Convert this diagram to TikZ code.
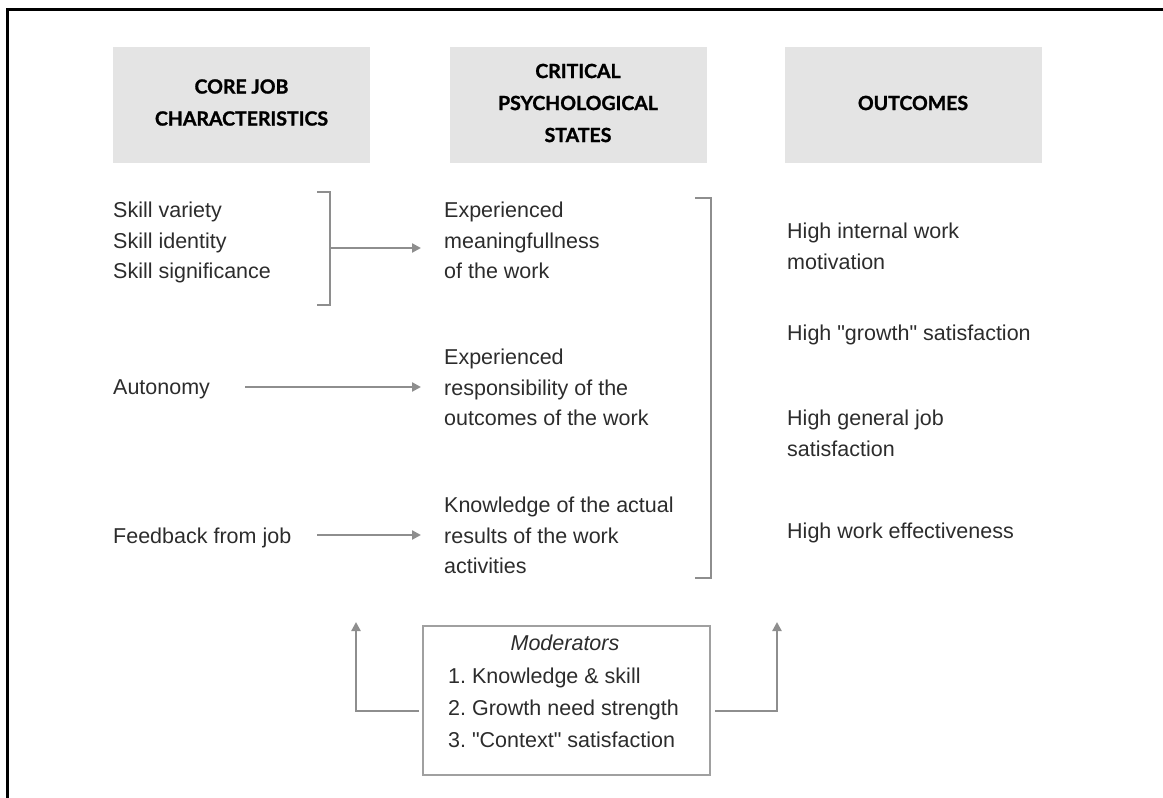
\documentclass[tikz,border=0pt]{standalone}
\usepackage{fontspec}
\setmainfont{Liberation Sans}[Ligatures=TeXOff]
\newfontfamily\headfont{Lato}[BoldFeatures={FakeBold=1.3}]
\usetikzlibrary{arrows.meta}
\definecolor{txt}{HTML}{2C2C2C}
\definecolor{conngray}{HTML}{8E8E8E}
\definecolor{boxgray}{HTML}{A0A0A0}
\definecolor{headfill}{HTML}{E4E4E4}
\frenchspacing
\begin{document}
\begin{tikzpicture}[x=1pt,y=-1pt,
  body/.style={inner sep=0pt, anchor=north west, align=left, text=txt,
    font=\fontsize{21.5}{30.5}\selectfont},
  modtext/.style={inner sep=0pt, anchor=north west, align=left, text=txt,
    font=\fontsize{21.5}{32}\selectfont},
  headbox/.style={fill=headfill, minimum width=257pt, minimum height=116pt, inner sep=0pt},
  headtext/.style={inner sep=0pt, text=black, align=center,
    font=\headfont\bfseries\fontsize{19.5}{32}\selectfont},
  conn/.style={draw=conngray, line width=2.4pt},
  arr/.style={conn, -{Triangle[length=9pt,width=9pt]}},
]
\useasboundingbox (0,0) rectangle (1163,798);

% outer frame
\draw[line width=2.6pt, black] (7.5,798) -- (7.5,9.5) -- (1163,9.5);

% column headers
\node[headbox] (h1) at (241.5,105) {};
\node[headbox] (h2) at (578,104.5) {};
\node[headbox] (h3) at (913,105) {};
\node[headtext] (h1t) at (241.5,102.5) {CORE JOB\\CHARACTERISTICS};
\node[headtext] (h2t) at (578,103) {CRITICAL\\PSYCHOLOGICAL\\STATES};
\node[headtext] (h3t) at (913,103) {OUTCOMES};

% core job characteristics
\node[body] (skills) at (113,202) {Skill variety\\Skill identity\\Skill significance};
\node[body] (auto) at (113,379.5) {Autonomy};
\node[body] (feed) at (113,527.5) {Feedback from job};

% critical psychological states
\node[body] (mean) at (444,202) {Experienced\\meaningfullness\\of the work};
\node[body] (resp) at (444,349) {Experienced\\responsibility of the\\outcomes of the work};
\node[body] (know) at (444,497) {Knowledge of the actual\\results of the work\\activities};

% outcomes
\node[body] (motiv) at (787,223) {High internal work\\motivation};
\node[body] (growth) at (787,325) {High "growth" satisfaction};
\node[body] (gensat) at (787,410) {High general job\\satisfaction};
\node[body] (effect) at (787,523) {High work effectiveness};

% bracket grouping the three skill items
\draw[conn] (317,192) -- (330,192) -- (330,305) -- (317,305);
\coordinate (br1) at (330,248);
\draw[arr, shorten >=23pt] (br1) -- (br1 -| mean.west);

% single arrows
\coordinate (a2) at (245,387);
\draw[arr, shorten >=23pt] (a2) -- (a2 -| resp.west);
\coordinate (a3) at (317,535);
\draw[arr, shorten >=23pt] (a3) -- (a3 -| know.west);

% bracket grouping the psychological states
\draw[conn] (695,198) -- (711,198) -- (711,578) -- (695,578);

% moderators box
\node[draw=boxgray, line width=2pt, minimum width=287pt, minimum height=149pt, inner sep=0pt] (mod) at (566.5,700.5) {};
\node[inner sep=0pt, anchor=north, text=txt, font=\fontsize{21.5}{32}\selectfont\itshape] (modt) at (565,635) {Moderators};
\node[modtext] (modl) at (448,668) {1. Knowledge \& skill\\2. Growth need strength\\3. "Context" satisfaction};

% moderator feedback arrows
\coordinate (ml) at (419,711);
\coordinate (mlt) at (356,622);
\draw[arr] (ml) -| (mlt);
\coordinate (mr) at (715,711);
\coordinate (mrt) at (777,622);
\draw[arr] (mr) -| (mrt);
\end{tikzpicture}
\end{document}
